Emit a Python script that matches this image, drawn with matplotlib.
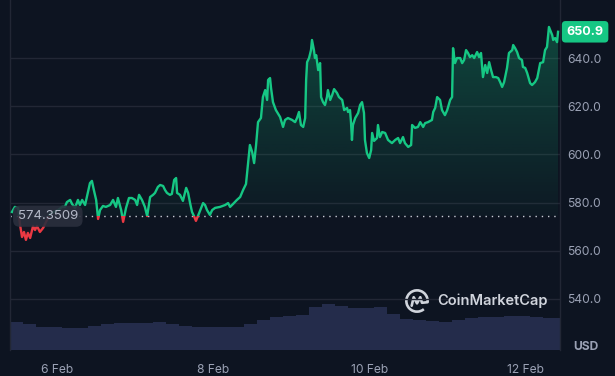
import matplotlib
matplotlib.use("Agg")
import matplotlib.dates as mdates
import matplotlib.pyplot as plt
import numpy as np
import pandas as pd
from matplotlib.patches import Arc, PathPatch, Rectangle
from matplotlib.path import Path as MPath
from matplotlib.ticker import FuncFormatter

plt.rcParams["font.family"] = ["Inter", "DejaVu Sans"]

BG = "#0d1421"
GRID = "#222735"
TXT = "#9aa1b4"
GREEN = "#16c784"
RED = "#ea3943"
VOL = "#242c4b"

start = pd.Timestamp("2025-02-05 09:30")
span_hours = 169.2
baseline = 574.3509
last_price = 650.9

# hours after start / price in USD
hours = [
    0.6, 1.5, 2.5, 3.1, 3.7, 4.3, 4.9, 5.5, 6.2, 7.1, 7.7, 8.3, 9.2, 10.2, 11.1, 12.3,
    13.5, 14.8, 16.0, 16.9, 17.5, 18.5, 19.1, 20.0, 20.9, 21.5, 22.2, 23.1, 24.0, 24.6,
    25.2, 25.8, 26.5, 27.1, 27.7, 28.6, 29.5, 30.8, 31.7, 32.6, 33.2, 34.2, 34.8, 35.7,
    36.6, 37.5, 38.5, 39.1, 39.7, 40.6, 41.5, 42.2, 43.1, 44.0, 44.6, 45.5, 46.2, 47.1,
    47.7, 48.3, 49.2, 49.8, 50.5, 51.1, 51.4, 52.3, 53.2, 54.2, 54.8, 55.4, 56.0, 56.6,
    57.2, 58.2, 59.4, 60.0, 60.6, 61.5, 62.2, 63.1, 64.6, 66.2, 67.1, 67.7, 68.6, 69.8,
    70.8, 71.7, 72.6, 73.2, 73.8, 74.5, 75.1, 75.7, 76.3, 77.2, 77.8, 78.5, 79.1, 79.4,
    80.0, 80.3, 80.9, 81.8, 83.1, 84.0, 84.6, 85.5, 86.8, 87.7, 88.3, 88.9, 89.5, 90.2,
    90.8, 91.1, 91.4, 92.0, 92.6, 92.9, 93.5, 93.8, 94.2, 94.8, 95.4, 95.7, 96.3, 96.9,
    97.5, 97.8, 98.5, 99.1, 99.7, 100.6, 101.2, 102.2, 102.8, 103.7, 104.0, 104.6, 104.9,
    105.2, 105.5, 106.2, 107.1, 107.7, 108.3, 108.9, 109.2, 109.8, 110.5, 111.1, 111.4,
    112.0, 112.9, 113.2, 113.8, 114.5, 115.4, 116.3, 117.5, 118.5, 119.4, 120.0, 120.9,
    121.5, 122.5, 123.4, 123.7, 124.6, 125.5, 126.2, 127.1, 127.7, 128.6, 129.8, 130.2,
    130.8, 131.4, 132.3, 132.9, 133.8, 134.5, 135.4, 136.0, 136.3, 136.9, 137.5, 138.5,
    139.1, 139.7, 140.3, 140.9, 141.5, 142.2, 142.8, 143.7, 144.3, 144.9, 145.5, 146.2,
    146.8, 147.4, 148.0, 148.6, 149.5, 150.2, 150.8, 151.4, 152.0, 152.9, 153.5, 154.5,
    154.8, 155.4, 156.0, 156.6, 157.5, 157.8, 158.5, 159.1, 160.0, 160.6, 161.5, 162.2,
    163.1, 164.0, 164.6, 165.2, 165.8, 166.8, 167.1, 167.7, 168.3, 168.6,
]
prices = [
    576.1, 578.2, 577.8, 570.7, 565.7, 567.8, 564.5, 567.4, 565.3, 570.3, 568.6, 570.3, 567.8, 569.5, 572.0, 575.3,
    576.1, 576.9, 578.2, 578.2, 580.2, 581.1, 579.4, 577.8, 581.1, 579.0, 581.1, 579.0, 584.4, 588.1,
    589.0, 585.2, 581.1, 573.2, 576.9, 578.6, 578.2, 579.0, 581.1, 578.2, 581.9, 576.9, 572.0, 577.8,
    581.9, 581.9, 581.1, 579.0, 583.2, 581.1, 578.2, 574.4, 582.3, 583.2, 584.0, 586.5, 587.3, 586.9,
    585.2, 584.0, 583.2, 583.6, 589.4, 590.2, 584.0, 583.2, 580.7, 586.1, 584.0, 579.8, 576.1, 574.4,
    572.4, 575.7, 579.8, 579.0, 576.9, 574.9, 576.9, 577.8, 578.2, 579.0, 579.8, 578.2, 579.4, 581.1,
    582.3, 585.2, 587.7, 596.0, 603.9, 601.0, 596.4, 603.9, 613.4, 615.1, 623.8, 626.7, 622.6, 630.9,
    631.7, 627.6, 621.7, 618.4, 615.5, 611.4, 614.3, 615.1, 614.3, 613.4, 615.1, 617.6, 612.2, 611.4,
    615.1, 630.9, 638.3, 640.0, 643.3, 647.5, 643.3, 640.0, 641.2, 635.0, 637.9, 623.8, 621.7, 620.5,
    623.8, 626.7, 622.6, 624.6, 627.1, 625.5, 623.8, 622.6, 618.4, 619.3, 617.6, 618.4, 613.4,
    606.0, 612.2, 615.1, 617.2, 620.5, 621.7, 617.2, 606.0, 600.6, 598.5, 601.8, 608.9,
    605.6, 606.8, 612.2, 607.2, 609.3, 608.9, 606.0, 604.7, 606.0, 606.8, 604.7, 607.2,
    604.7, 603.1, 603.9, 612.2, 611.0, 611.4, 613.4, 611.4, 613.0, 613.4, 614.3, 617.6,
    619.3, 623.8, 622.6, 618.4, 616.3, 618.4, 622.6, 623.8, 644.1, 637.9, 640.0, 640.0,
    637.9, 639.2, 643.3, 642.1, 640.4, 641.2, 640.0, 642.5, 640.4, 642.1, 632.1, 637.1,
    633.8, 638.3, 635.0, 632.1, 632.1, 631.7, 630.0, 628.0, 630.0, 635.9, 642.1, 643.3,
    645.4, 644.1, 642.5, 640.0, 639.2, 636.3, 635.9, 633.8, 629.6, 628.8, 630.0, 631.7,
    637.9, 638.3, 643.3, 644.6, 652.9, 649.5, 647.5, 648.3, 646.6, 650.9,
]

# 4-hour volume blocks (relative units)
vol_hours = list(range(0, 172, 4))
volume = [
    28, 26, 23, 23, 22, 22, 24, 26, 27, 27, 27, 28, 26, 24, 23, 23, 23, 23, 26, 30, 33, 34,
    35, 43, 46, 44, 42, 42, 43, 36, 31, 30, 29, 28, 30, 32, 33, 33, 34, 34, 33, 32, 32,
]

y_ticks = [540, 560, 580, 600, 620, 640]
y_min, y_max = 518.8, 664.1


def to_num(offsets):
    return mdates.date2num(start + pd.to_timedelta(offsets, unit="h"))


t = to_num(hours)
p = np.array(prices)
x0, x1 = to_num([0, span_hours])

fig = plt.figure(figsize=(6.15, 3.76), dpi=100, facecolor=BG)
ax = fig.add_axes([10 / 615, 26 / 376, 550 / 615, 350 / 376])
ax_vol = ax.twinx()
ax.set_zorder(2)
ax.patch.set_visible(False)
ax_vol.set_zorder(1)
ax_vol.patch.set_facecolor(BG)

# volume
ax_vol.bar(to_num(vol_hours), volume, width=4 / 24, align="edge", color=VOL, linewidth=0)
ax_vol.set_ylim(0, 350)
ax_vol.set_yticks([])
for s in ax_vol.spines.values():
    s.set_visible(False)

# gradient fill between price and baseline
fill = ax.fill_between(t, p, baseline, facecolor="none", edgecolor="none")
clip = PathPatch(fill.get_paths()[0], transform=ax.transData, facecolor="none", edgecolor="none")
ax.add_patch(clip)

grad = np.zeros((256, 1, 4))
grad[:, 0, :3] = matplotlib.colors.to_rgb(GREEN)
grad[:, 0, 3] = np.linspace(0.03, 0.32, 256)
im = ax.imshow(grad, extent=[x0, x1, baseline, y_max], origin="lower", aspect="auto", zorder=1)
im.set_clip_path(clip)

grad_r = np.zeros((64, 1, 4))
grad_r[:, 0, :3] = matplotlib.colors.to_rgb(RED)
grad_r[:, 0, 3] = np.linspace(0.10, 0.02, 64)
im_r = ax.imshow(grad_r, extent=[x0, x1, 560, baseline], origin="lower", aspect="auto", zorder=1)
im_r.set_clip_path(clip)

# price line, green above the baseline and red below
above = Rectangle((x0, baseline), x1 - x0, 200, transform=ax.transData)
below = Rectangle((x0, baseline - 200), x1 - x0, 200, transform=ax.transData)
line_g, = ax.plot(t, p, color=GREEN, lw=1.7, zorder=3, solid_joinstyle="round")
line_g.set_clip_path(above)
line_r, = ax.plot(t, p, color=RED, lw=1.7, zorder=3, solid_joinstyle="round")
line_r.set_clip_path(below)

ax.axhline(baseline, color="#c8ccd6", lw=1, ls=(0, (1, 3.5)), zorder=2)

ax.set_xlim(x0, x1)
ax.set_ylim(y_min, y_max)
ax.set_yticks(y_ticks)
ax.yaxis.tick_right()
ax.yaxis.set_major_formatter(FuncFormatter(lambda v, _: f"{v:.1f}"))
ax.grid(axis="y", color=GRID, lw=1)
ax.set_axisbelow(True)
ax.xaxis.set_major_locator(mdates.DayLocator(bymonthday=[6, 8, 10, 12]))
ax.xaxis.set_major_formatter(FuncFormatter(lambda v, _: f"{mdates.num2date(v).day} {mdates.num2date(v):%b}"))
ax.tick_params(axis="y", length=0, pad=5, colors=TXT, labelsize=8.7)
ax.tick_params(axis="x", length=0, pad=10, colors=TXT, labelsize=8.7)
for side in ["top", "bottom"]:
    ax.spines[side].set_visible(False)
for side in ["left", "right"]:
    ax.spines[side].set_color(GRID)
    ax.spines[side].set_linewidth(1)

# price labels
ax.text(0.014, baseline, f"{baseline:.4f}", transform=ax.get_yaxis_transform(), ha="left", va="center",
        color="#b4b9c8", fontsize=9.5, zorder=5,
        bbox=dict(boxstyle="round,pad=0.35,rounding_size=0.5", fc="#2a2f3d", ec="none", alpha=0.9))
ax.text(1.012, last_price, f"{last_price:.1f}", transform=ax.get_yaxis_transform(), ha="left", va="center",
        color="white", fontsize=9, fontweight="bold", clip_on=False, zorder=5,
        bbox=dict(boxstyle="round,pad=0.38,rounding_size=0.3", fc=GREEN, ec="none"))

fig.text(586 / 615, 1 - 347 / 376, "USD", color=TXT, fontsize=8.7, fontweight="bold", ha="center", va="center")

# watermark
logo = fig.add_axes([404 / 615, 1 - 314 / 376, 26 / 615, 26 / 376])
logo.set_xlim(-1.1, 1.1)
logo.set_ylim(-1.1, 1.1)
logo.set_aspect("equal")
logo.axis("off")
logo.add_patch(Arc((0, 0), 1.8, 1.8, theta1=-5, theta2=310, color="#d0d4dc", lw=1.9))
m_path = MPath([(-0.45, -0.4), (-0.28, 0.32), (0.0, -0.2), (0.28, 0.32), (0.42, -0.15), (0.9, -0.1)])
logo.add_patch(PathPatch(m_path, fill=False, ec="#d0d4dc", lw=1.9, capstyle="round", joinstyle="round"))
fig.text(437 / 615, 1 - 301 / 376, "CoinMarketCap", color="#d0d4dc", fontsize=10.5, fontweight="semibold",
         ha="left", va="center")

fig.savefig("out.png", dpi=100, facecolor=BG)
